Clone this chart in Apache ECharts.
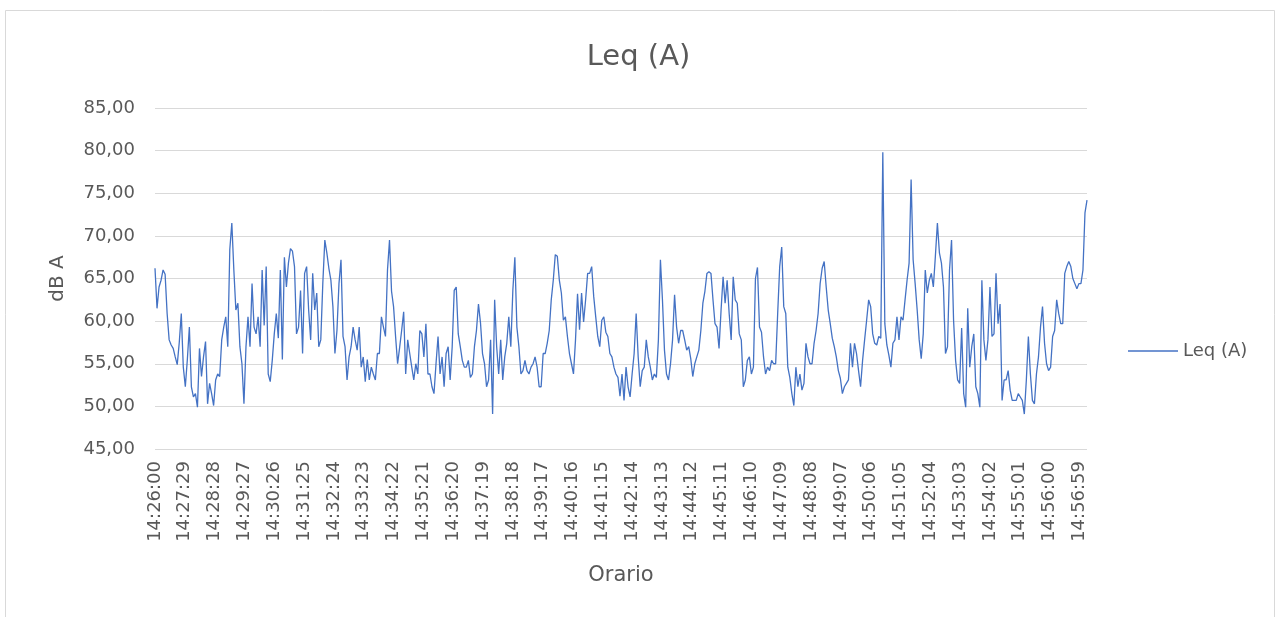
<!DOCTYPE html>
<html><head><meta charset="utf-8">
<script src="https://cdn.jsdelivr.net/npm/echarts@6/dist/echarts.min.js"></script>
<style>html,body{margin:0;padding:0;background:#fff;}#c{width:1277px;height:617px;}</style>
</head><body><div id="c"></div>
<script>
// Tick labels shown every 59 samples on the x axis
const tickLabels = ['14:26:00','14:27:29','14:28:28','14:29:27','14:30:26','14:31:25','14:32:24','14:33:23',
  '14:34:22','14:35:21','14:36:20','14:37:19','14:38:18','14:39:17','14:40:16','14:41:15',
  '14:42:14','14:43:13','14:44:12','14:45:11','14:46:10','14:47:09','14:48:08','14:49:07',
  '14:50:06','14:51:05','14:52:04','14:53:03','14:54:02','14:55:01','14:56:00','14:56:59'];
const samplesPerTick = 59;
const sampleStep = 4;        // one reading every 4 samples
const totalSamples = 1844;

// Leq (A) readings, dB A
const leqA = [
66.2,61.5,64.0,64.8,66.0,65.5,60.9,57.8,57.2,56.8,55.8,54.9,57.5,60.9,54.6,52.3,55.5,59.3,52.3,51.1,
51.5,49.9,56.8,53.5,55.8,57.6,50.3,52.7,51.5,50.1,53.1,53.8,53.5,57.8,59.3,60.5,57.0,68.4,71.5,66.0,
61.3,62.1,57.0,55.0,50.3,57.0,60.5,57.0,64.4,59.3,
58.5,60.5,57.0,66.0,59.5,66.4,53.8,52.9,55.4,58.5,60.9,58.0,66.0,55.5,67.5,64.0,66.8,68.5,68.2,66.4,
58.5,59.3,63.6,56.2,65.6,66.4,61.3,57.8,65.6,61.3,63.3,57.0,57.8,64.4,69.5,68.0,66.2,64.8,61.7,56.2,
58.9,64.4,67.2,58.2,57.0,53.1,55.8,57.0,59.3,57.8,56.6,59.3,
54.6,55.8,52.9,55.5,53.1,54.6,53.8,53.1,56.2,56.2,60.5,59.3,58.2,66.0,69.5,63.5,61.7,58.2,55.0,56.9,
58.9,61.1,53.8,57.8,56.2,54.6,53.1,55.0,53.8,58.9,58.5,55.8,59.7,53.8,53.8,52.3,51.5,55.0,58.2,53.8,
55.8,52.3,56.2,57.0,53.1,57.0,63.6,64.0,58.5,57.0,55.4,54.6,
54.6,55.4,53.4,53.8,57.0,58.9,62.0,59.8,56.2,55.0,52.3,53.1,57.8,49.1,62.5,57.0,53.8,57.8,53.1,55.8,
57.4,60.5,57.0,63.6,67.5,59.3,57.0,53.8,54.2,55.4,54.2,53.8,54.6,55.0,55.8,54.6,52.3,52.3,56.2,56.2,
57.4,58.9,62.5,64.8,67.8,67.6,64.8,63.3,60.1,60.5,58.2,
56.2,55.0,53.8,57.8,63.2,59.0,63.3,59.9,62.5,65.6,65.6,66.4,62.9,60.5,58.2,57.0,60.1,60.5,58.7,58.2,
56.2,55.8,54.6,53.8,53.4,51.2,53.8,50.7,54.6,52.3,51.1,53.8,56.2,60.9,55.8,52.3,54.2,54.6,57.8,55.8,
54.6,53.1,53.8,53.4,57.8,67.2,62.5,56.6,53.8,53.1,55.0,
57.8,63.1,59.3,57.4,58.9,58.9,57.8,56.6,57.0,55.6,53.5,55.0,55.8,56.6,58.9,62.1,63.5,65.6,65.8,65.6,
62.5,59.7,59.3,56.8,61.3,65.2,62.1,64.8,60.9,57.8,65.2,62.5,62.1,58.5,57.8,52.3,53.1,55.4,55.8,53.8,
54.6,65.0,66.3,59.3,58.7,55.8,53.8,54.6,54.2,55.4,55.0,55.0,
60.9,66.4,68.7,61.7,60.9,54.6,53.4,51.5,50.1,54.6,52.3,53.8,51.9,52.7,57.4,55.8,55.0,55.0,57.4,58.9,
60.9,64.4,66.2,67.0,64.0,61.3,59.7,58.0,57.0,55.8,54.2,53.3,51.5,52.3,52.7,53.1,57.4,54.6,57.4,56.2,
54.2,52.3,55.4,57.8,60.1,62.5,61.7,58.5,57.4,57.2,58.2,
58.0,79.8,59.7,57.2,56.0,54.6,57.4,57.8,60.5,57.8,60.5,60.1,62.5,64.8,66.8,76.6,67.2,64.4,61.3,57.8,
55.6,58.5,66.0,63.3,64.8,65.6,64.0,67.6,71.5,68.0,66.8,64.0,56.2,57.0,66.0,69.5,60.1,55.4,53.1,52.7,
59.2,51.5,49.9,61.5,54.6,57.0,58.5,52.3,51.5,49.9,64.8,57.8,
55.4,57.8,64.0,58.2,58.5,65.6,59.7,62.0,50.7,53.1,53.1,54.2,51.9,50.7,50.7,50.7,51.5,51.1,50.7,49.1,
53.1,58.2,53.8,50.7,50.3,53.8,55.8,59.3,61.7,57.4,55.0,54.2,54.6,58.2,58.9,62.5,60.9,59.7,59.7,65.6,
66.4,67.0,66.4,65.0,64.4,63.8,64.4,64.4,66.0,72.7,74.2
];

const seriesData = leqA.map((v, i) => [i * sampleStep, v]);
const FONT = 'DejaVu Sans';
const GREY = '#595959';
const BLUE = '#4472C4';

const chart = echarts.init(document.getElementById('c'), null, {renderer: 'canvas'});
chart.setOption({
  animation: false,
  backgroundColor: '#ffffff',
  title: {
    text: 'Leq (A)', left: 'center', top: 38,
    textStyle: {fontFamily: FONT, fontSize: 29, fontWeight: 'normal', color: GREY}
  },
  legend: {
    orient: 'vertical', left: 1123, top: 337,
    itemWidth: 50, itemHeight: 1.3, itemGap: 5,
    icon: 'rect',
    textStyle: {fontFamily: FONT, fontSize: 18, color: GREY},
    data: ['Leq (A)']
  },
  grid: {left: 155, right: 190, top: 108, bottom: 168, containLabel: false},
  xAxis: {
    type: 'value', min: 0, max: totalSamples, interval: samplesPerTick,
    name: 'Orario', nameLocation: 'middle', nameGap: 116,
    nameTextStyle: {fontFamily: FONT, fontSize: 21, color: GREY},
    axisLine: {show: false}, axisTick: {show: false}, splitLine: {show: false},
    axisLabel: {
      rotate: 90, margin: 12, fontFamily: FONT, fontSize: 18, color: GREY,
      showMaxLabel: false,
      formatter: v => (v % samplesPerTick === 0 && tickLabels[v / samplesPerTick]) ? tickLabels[v / samplesPerTick] : ''
    }
  },
  yAxis: {
    type: 'value', min: 45, max: 85, interval: 5,
    name: 'dB A', nameLocation: 'middle', nameGap: 87, nameRotate: 90,
    nameTextStyle: {fontFamily: FONT, fontSize: 20, color: GREY},
    axisLine: {show: false}, axisTick: {show: false},
    splitLine: {lineStyle: {color: '#d9d9d9', width: 1}},
    axisLabel: {
      margin: 20, fontFamily: FONT, fontSize: 18, color: GREY,
      formatter: v => v.toFixed(2).replace('.', ',')
    }
  },
  series: [{
    name: 'Leq (A)', type: 'line', data: seriesData,
    symbol: 'none', showSymbol: false,
    lineStyle: {color: BLUE, width: 1.3},
    itemStyle: {color: BLUE}
  }],
  graphic: [{
    type: 'rect', silent: true,
    shape: {x: 5.5, y: 10.5, width: 1269, height: 620},
    style: {fill: 'none', stroke: '#d9d9d9', lineWidth: 1}
  }]
});
</script>
</body></html>
